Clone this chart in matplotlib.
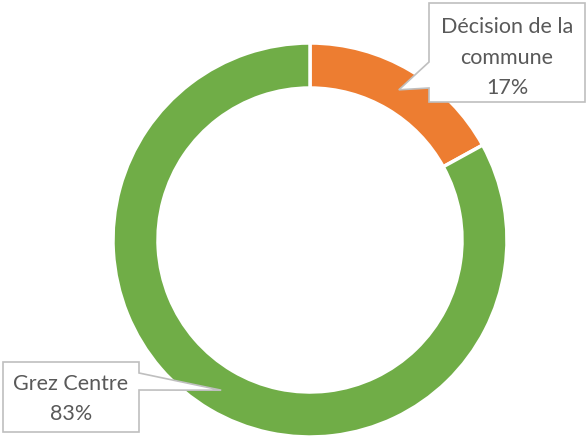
import numpy as np
import matplotlib.pyplot as plt
from matplotlib.patches import Polygon

# Données
labels = ["Décision de la\ncommune", "Grez Centre"]
values = [17, 83]
colors = ["#ED7D31", "#70AD47"]

W, H = 587, 440
cx, cy = 310, H - 240
r_out, ring = 197, 45

plt.rcParams["font.family"] = ["Lato", "DejaVu Sans"]

fig = plt.figure(figsize=(W / 100, H / 100), dpi=100)
ax = fig.add_axes([0, 0, 1, 1])

wedges, _ = ax.pie(
    values,
    colors=colors,
    startangle=90,
    counterclock=False,
    radius=r_out,
    center=(cx, cy),
    wedgeprops=dict(width=ring, edgecolor="white", linewidth=2.5),
)
ax.set_xlim(0, W)
ax.set_ylim(0, H)
ax.axis("off")


def tip_of(w):
    """Point au milieu de l'anneau, à l'angle moyen du secteur."""
    ang = np.deg2rad((w.theta1 + w.theta2) / 2)
    r = r_out - ring / 2
    return cx + r * np.cos(ang), cy + r * np.sin(ang)


def callout(box, base, side, tip, text, dy=0):
    """Dessine une bulle (rectangle + pointe) avec le texte centré."""
    x0, x1, y0, y1 = box  # y0 = haut, y1 = bas (pixels depuis le haut)
    b0, b1 = base
    if side == "left":
        pts = [(x0, y0), (x1, y0), (x1, y1), (x0, y1), (x0, b1), tip, (x0, b0)]
    else:
        pts = [(x0, y0), (x1, y0), (x1, b0), tip, (x1, b1), (x1, y1), (x0, y1)]
    pts = [(p[0], H - p[1]) if p is not tip else p for p in pts]
    ax.add_patch(Polygon(pts, closed=True, facecolor="white",
                         edgecolor="#bfbfbf", linewidth=1.2, zorder=5))
    ax.text((x0 + x1) / 2, H - (y0 + y1) / 2 - dy, text, ha="center", va="center",
            fontsize=15.5, color="#595959", linespacing=1.68, zorder=6)


pcts = [f"{v}%" for v in values]
callout((429, 585, 3, 102), (62, 88), "left", tip_of(wedges[0]),
        f"{labels[0]}\n{pcts[0]}", dy=5)
callout((3, 139, 362, 432), (373, 390), "right", tip_of(wedges[1]),
        f"{labels[1]}\n{pcts[1]}", dy=2)

plt.savefig("out.png", dpi=100)
plt.close()
